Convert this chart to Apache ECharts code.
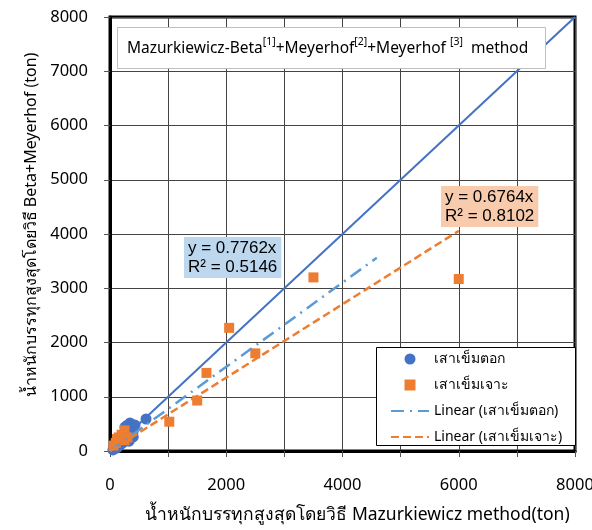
<!DOCTYPE html>
<html>
<head>
<meta charset="utf-8">
<script src="https://cdn.jsdelivr.net/npm/echarts@6/dist/echarts.min.js"></script>
<style>
  html, body { margin: 0; padding: 0; background: #fff; }
  #chart { width: 592px; height: 530px; }
</style>
</head>
<body>
<div id="chart"></div>
<script>
// Capacity by Mazurkiewicz method (x) vs. Beta+Meyerhof method (y), tons
const drivenPiles = [
  [620, 590], [344, 516], [430, 479], [290, 470], [258, 442], [360, 420],
  [280, 380], [396, 350], [379, 332], [300, 300], [400, 260], [310, 240],
  [250, 200], [330, 180], [220, 150], [180, 120], [150, 90], [120, 60],
  [80, 40], [50, 20]
];
const boredPiles = [
  [6000, 3170], [3500, 3200], [2050, 2270], [2500, 1800], [1660, 1440],
  [1500, 930], [1020, 540], [250, 380], [200, 300], [150, 250],
  [120, 220], [250, 200], [300, 250], [100, 150], [60, 100]
];
// Linear trend lines through the origin: slope, R², extent of x
const drivenFit = { slope: 0.7762, r2: 0.5146, xEnd: 4590 };
const boredFit = { slope: 0.6764, r2: 0.8102, xEnd: 6000 };
const equalityLine = [0, 8000];

const axisTicks = { min: 0, max: 8000, step: 1000 };
const xLabelStep = 2000;
const seriesNames = ['เสาเข็มตอก', 'เสาเข็มเจาะ', 'Linear (เสาเข็มตอก)', 'Linear (เสาเข็มเจาะ)'];
const xAxisTitle = 'น้ำหนักบรรทุกสูงสุดโดยวิธี Mazurkiewicz method(ton)';
const yAxisTitle = 'น้ำหนักบรรทุกสูงสุดโดยวิธี Beta+Meyerhof (ton)';

const FONT = '"Noto Sans", "DejaVu Sans", sans-serif';
const BLUE = '#4472C4', ORANGE = '#ED7D31', LIGHT_BLUE = '#5B9BD5';

const chart = echarts.init(document.getElementById('chart'));

function fitLine(fit) {
  return [[0, 0], [fit.xEnd, fit.slope * fit.xEnd]];
}
function fitText(fit) {
  return 'y = ' + fit.slope.toFixed(4) + 'x\nR² = ' + fit.r2.toFixed(4);
}

const axisCommon = {
  type: 'value',
  min: axisTicks.min,
  max: axisTicks.max,
  interval: axisTicks.step,
  axisLine: { show: true, lineStyle: { color: '#000', width: 3 } },
  axisTick: { show: true, length: 6, lineStyle: { color: '#555', width: 1 } },
  splitLine: { show: true, lineStyle: { color: '#444', width: 1 } },
  axisLabel: {
    color: '#000', fontSize: 16.5, fontFamily: FONT,
    formatter: v => String(v), hideOverlap: false, showMaxLabel: true, showMinLabel: true
  },
  nameLocation: 'middle',
  nameTextStyle: { color: '#000', fontSize: 16, fontFamily: FONT, fontWeight: 'normal' }
};

chart.setOption({
  animation: false,
  backgroundColor: '#fff',
  grid: {
    left: 110, right: 17, top: 17, bottom: 79,
    outerBoundsMode: 'none', containLabel: false,
    show: true, borderColor: '#000', borderWidth: 3, backgroundColor: 'transparent'
  },
  xAxis: Object.assign({}, axisCommon, {
    name: xAxisTitle,
    nameGap: 55,
    nameTextStyle: Object.assign({}, axisCommon.nameTextStyle, { fontSize: 17.5, padding: [0, 0, 0, 30] }),
    axisLabel: Object.assign({}, axisCommon.axisLabel, {
      margin: 26,
      formatter: v => (v % xLabelStep === 0 ? String(v) : '')
    })
  }),
  yAxis: Object.assign({}, axisCommon, {
    name: yAxisTitle,
    nameGap: 61,
    nameTextStyle: Object.assign({}, axisCommon.nameTextStyle, { padding: [0, 0, 0, 18] }),
    axisLabel: Object.assign({}, axisCommon.axisLabel, { margin: 22 })
  }),
  legend: {
    orient: 'vertical',
    left: 390, top: 352, z: 30,
    itemWidth: 38, itemHeight: 11, itemGap: 12,
    padding: 0,
    textStyle: { color: '#000', fontSize: 14, fontFamily: FONT },
    data: [
      { name: seriesNames[0], icon: 'circle' },
      { name: seriesNames[1], icon: 'path://M0,0H10V10H0Z' },
      { name: seriesNames[2], itemStyle: { opacity: 0 } },
      { name: seriesNames[3], itemStyle: { opacity: 0 } }
    ]
  },
  graphic: [
    // heading box
    { type: 'rect', left: 117, top: 27, z: 10,
      shape: { width: 428, height: 41 },
      style: { fill: '#fff', stroke: '#bfbfbf', lineWidth: 1 } },
    { type: 'text', left: 127, top: 37, z: 11,
      style: {
        text: '{n|Mazurkiewicz-Beta}{s|[1]}{n|+Meyerhof}{s|[2]}{n|+Meyerhof }{s|[3]}{n|  method}',
        rich: {
          n: { fontSize: 15.5, fontFamily: FONT, fill: '#000', lineHeight: 20, verticalAlign: 'bottom' },
          s: { fontSize: 10.5, fontFamily: FONT, fill: '#000', lineHeight: 20, verticalAlign: 'top' }
        }
      } },
    // legend box
    { type: 'rect', left: 376, top: 347, z: 1,
      shape: { width: 199, height: 98 },
      style: { fill: '#fff', stroke: '#000', lineWidth: 1 } },
    // trend-line equations
    { type: 'text', left: 184, top: 237, z: 11,
      style: {
        text: fitText(drivenFit), fontSize: 17, lineHeight: 19,
        fontFamily: '"Liberation Sans", Arial, sans-serif', fill: '#000',
        backgroundColor: '#BDD7EE', padding: [2, 4, 1, 4]
      } },
    { type: 'text', left: 441, top: 186, z: 11,
      style: {
        text: fitText(boredFit), fontSize: 17, lineHeight: 19,
        fontFamily: '"Liberation Sans", Arial, sans-serif', fill: '#000',
        backgroundColor: '#F8CBAD', padding: [2, 4, 1, 4]
      } }
  ],
  series: [
    {
      name: 'equality', type: 'line', symbol: 'none', z: 3,
      data: [[equalityLine[0], equalityLine[0]], [equalityLine[1], equalityLine[1]]],
      lineStyle: { color: BLUE, width: 2 }
    },
    {
      name: seriesNames[0], type: 'scatter', symbol: 'circle', symbolSize: 11, z: 4,
      itemStyle: { color: BLUE, opacity: 1 },
      data: drivenPiles
    },
    {
      name: seriesNames[1], type: 'scatter', symbol: 'rect', symbolSize: 10, z: 5,
      itemStyle: { color: ORANGE, opacity: 1 },
      data: boredPiles
    },
    {
      name: seriesNames[2], type: 'line', symbol: 'none', z: 6,
      itemStyle: { color: LIGHT_BLUE },
      lineStyle: { color: LIGHT_BLUE, width: 2.5, type: [13, 6, 2, 6] },
      data: fitLine(drivenFit)
    },
    {
      name: seriesNames[3], type: 'line', symbol: 'none', z: 6,
      itemStyle: { color: ORANGE },
      lineStyle: { color: ORANGE, width: 2.5, type: [8, 4] },
      data: fitLine(boredFit)
    }
  ]
});
</script>
</body>
</html>
